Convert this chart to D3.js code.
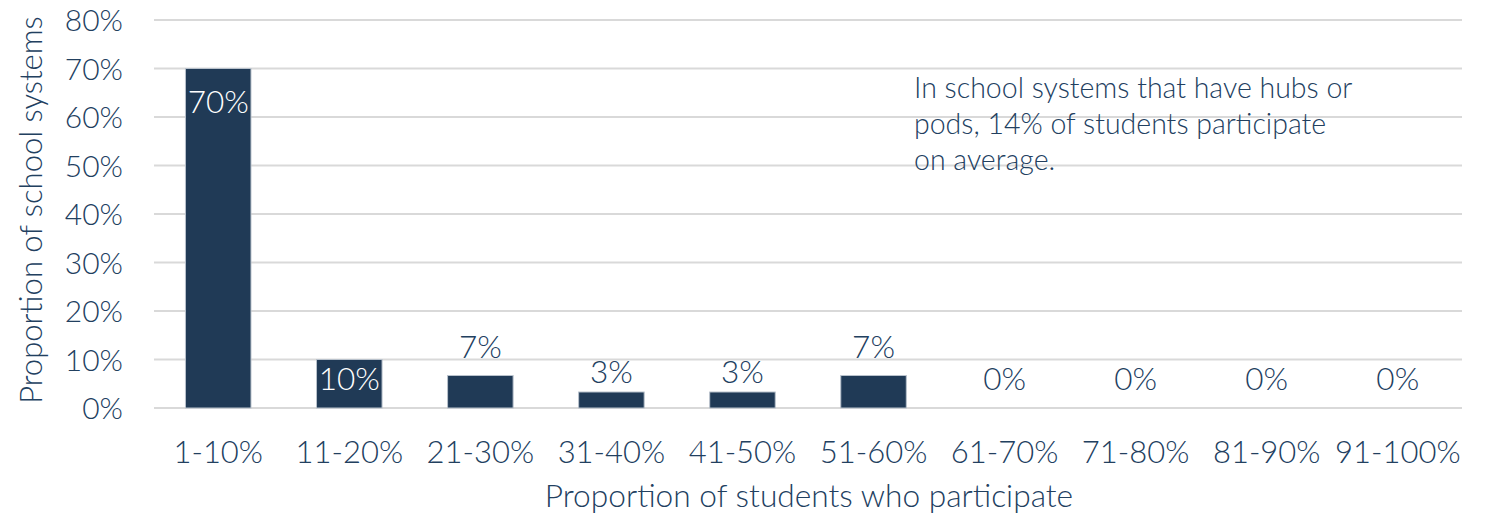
<!DOCTYPE html>
<html>
<head>
<meta charset="utf-8">
<script src="https://cdn.jsdelivr.net/npm/d3@7"></script>
<style>
	body { margin: 0; background: #fff; }
	text { font-family: Lato, "Open Sans", sans-serif; font-weight: 300; fill: #22405f; }
</style>
</head>
<body>
<svg id="chart" width="1486" height="516"></svg>
<script>
var categories = ["1-10%", "11-20%", "21-30%", "31-40%", "41-50%", "51-60%", "61-70%", "71-80%", "81-90%", "91-100%"];
var values = [70, 10, 6.7, 3.3, 3.3, 6.7, 0, 0, 0, 0];
var yTicks = [0, 10, 20, 30, 40, 50, 60, 70, 80];
var noteLines = ["In school systems that have hubs or", "pods, 14% of students participate", "on average."];

var svg = d3.select('#chart');
var plotLeft = 154, plotRight = 1462, plotTop = 20, plotBottom = 408;
var textColor = '#22405f';

var x = d3.scaleBand().domain(categories).range([plotLeft, plotRight]).paddingInner(0.5).paddingOuter(0.24);
var y = d3.scaleLinear().domain([0, 80]).range([plotBottom, plotTop]);

// gridlines
svg.append('g').selectAll('line').data(yTicks).join('line')
	.attr('x1', plotLeft).attr('x2', plotRight)
	.attr('y1', function(d) { return y(d); })
	.attr('y2', function(d) { return y(d); })
	.style('stroke', '#d9d9d9')
	.style('stroke-width', 2);

// y axis labels
var yAxis = svg.append('g').attr('transform', 'translate(' + (plotLeft - 31) + ',0)')
	.call(d3.axisLeft(y).tickValues(yTicks).tickSize(0).tickPadding(0).tickFormat(function(d) { return d + '%'; }));
yAxis.select('.domain').remove();
yAxis.selectAll('text').attr('font-family', null).style('font-size', '30px').attr('dy', '0.35em');

// x axis labels
var xAxis = svg.append('g').attr('transform', 'translate(0,' + (plotBottom + 27) + ')')
	.call(d3.axisBottom(x).tickSize(0).tickPadding(0));
xAxis.select('.domain').remove();
xAxis.selectAll('text').attr('font-family', null).style('font-size', '31px').attr('dy', '0.9em');

// bars
svg.append('g').selectAll('rect').data(values).join('rect')
	.attr('x', function(d, i) { return x(categories[i]); })
	.attr('width', x.bandwidth())
	.attr('y', function(d) { return y(d); })
	.attr('height', function(d) { return plotBottom - y(d); })
	.style('fill', '#203a56')
	.style('stroke', '#b9c2cc')
	.style('stroke-width', function(d) { return d > 0 ? 1 : 0; });

// data labels: inside end if the bar is tall enough, otherwise above
svg.append('g').selectAll('text').data(values).join('text')
	.attr('x', function(d, i) { return x(categories[i]) + x.bandwidth() / 2; })
	.attr('y', function(d) {
		var h = plotBottom - y(d);
		if (h >= 40) return Math.min(y(d) + 44, plotBottom - 18);
		if (h > 0 && h < 25) return y(d) - 9;
		return Math.min(y(d) - 18, plotBottom - 18);
	})
	.attr('text-anchor', 'middle')
	.style('font-size', '31.5px')
	.style('fill', function(d) { return (plotBottom - y(d)) >= 40 ? '#ffffff' : textColor; })
	.text(function(d) { return Math.round(d) + '%'; });

// note
svg.append('text')
	.attr('x', 914).attr('y', 98)
	.style('font-size', '28.5px')
	.selectAll('tspan').data(noteLines).join('tspan')
	.attr('x', 914)
	.attr('dy', function(d, i) { return i ? 36 : 0; })
	.text(function(d) { return d; });

// axis titles
svg.append('text')
	.attr('x', (plotLeft + plotRight) / 2 + 1).attr('y', 507)
	.attr('text-anchor', 'middle')
	.style('font-size', '31.7px')
	.text('Proportion of students who participate');

svg.append('text')
	.attr('transform', 'translate(42,' + ((plotTop + plotBottom) / 2 - 4) + ') rotate(-90)')
	.attr('text-anchor', 'middle')
	.style('font-size', '31px')
	.text('Proportion of school systems');
</script>
</body>
</html>
